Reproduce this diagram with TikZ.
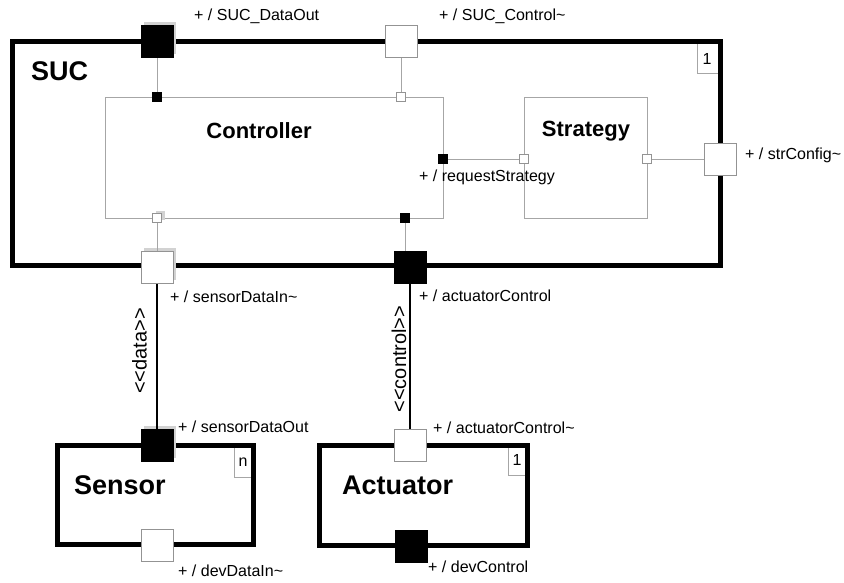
\documentclass[tikz,border=0pt]{standalone}
\usepackage{fontspec}
\setmainfont{Liberation Sans}
\usetikzlibrary{shadows}
\begin{document}
\begin{tikzpicture}[x=1pt,y=-1pt,
  thickbox/.style={draw=black, line width=5pt, inner sep=0pt},
  partbox/.style={draw=gray!70, line width=1pt, inner sep=0pt},
  multbox/.style={draw=gray!70, line width=0.8pt, fill=white, inner sep=0pt},
  multtext/.style={inner sep=0pt, font=\fontsize{16}{18}\selectfont},
  bigport/.style={draw=gray!85, line width=1pt, fill=white, minimum size=32pt, inner sep=0pt},
  bigportb/.style={bigport, fill=black, draw=black},
  smallport/.style={draw=gray!85, line width=0.8pt, fill=white, minimum size=9pt, inner sep=0pt},
  smallportb/.style={smallport, fill=black, draw=black},
  shad/.style={general shadow={shadow xshift=3pt, shadow yshift=3pt, fill=gray!35}},
  lbl/.style={font=\fontsize{16}{18}\selectfont, inner sep=0pt, anchor=west},
  title/.style={font=\bfseries\fontsize{27}{30}\selectfont, inner sep=0pt},
  ptitle/.style={font=\bfseries\fontsize{22}{25}\selectfont, inner sep=0pt},
  stereo/.style={font=\fontsize{20}{22}\selectfont, inner sep=0pt, rotate=90},
  thinline/.style={draw=gray!70, line width=1pt},
  conn/.style={draw=black, line width=2pt}
]
\useasboundingbox (0,0) rectangle (844,582);

% multiplicity boxes (under the thick borders)
\node[multbox, minimum width=23pt, minimum height=32pt] (m1) at (708.5,57) {};
\node[multbox, minimum width=19pt, minimum height=32pt] (mn) at (243.5,461) {};
\node[multbox, minimum width=19pt, minimum height=30pt] (ma) at (517.5,460) {};

% main boxes
\node[thickbox, minimum width=708pt, minimum height=224pt] (suc) at (366,153) {};
\node[thickbox, minimum width=196pt, minimum height=99pt] (sensor) at (155,494.5) {};
\node[thickbox, minimum width=208pt, minimum height=100pt] (actuator) at (423,495) {};
\node[partbox, minimum width=338pt, minimum height=121pt] (ctrl) at (274,157.5) {};
\node[partbox, minimum width=123pt, minimum height=121pt] (strat) at (585.5,157.5) {};

% multiplicity texts
\node[multtext] (m1t) at (707,59) {1};
\node[multtext] (mnt) at (243,462) {n};
\node[multtext] (mat) at (517,460) {1};

% titles
\node[title, anchor=west] (suct) at (31,71) {SUC};
\node[title, anchor=west] (sent) at (74,485) {Sensor};
\node[title, anchor=west] (actt) at (342,485) {Actuator};
\node[ptitle] (ctrlt) at (259,131) {Controller};
\node[ptitle] (stratt) at (586,131) {Strategy};

% ports
\node[bigportb, shad] (sdo) at (157,41) {};
\node[bigport] (sc) at (401,41) {};
\node[bigport] (str) at (720,159) {};
\node[bigport, shad] (sdi) at (157,267) {};
\node[bigportb] (ac) at (410,267) {};
\node[bigportb, shad] (sdoS) at (157,445) {};
\node[bigport] (ddi) at (157,545) {};
\node[bigport] (acT) at (410,445) {};
\node[bigportb] (dc) at (411,546) {};

\node[smallportb] (c1) at (157,97) {};
\node[smallport] (c2) at (401,97) {};
\node[smallportb] (c3) at (443,159) {};
\node[smallport, shad] (c4) at (157,218) {};
\node[smallportb] (c5) at (405,218) {};
\node[smallport] (s1) at (524,159) {};
\node[smallport] (s2) at (647,159) {};

% connectors
\draw[thinline] (c1) -- (sdo);
\draw[thinline] (c2) -- (sc);
\draw[thinline] (c3) -- (s1);
\draw[thinline] (s2) -- (str);
\draw[thinline] (c4) -- (sdi);
\draw[thinline] (c5.south) -- (c5.south |- ac.north);
\draw[conn] (sdi) -- (sdoS);
\draw[conn] (ac) -- (acT);

% redraw ports on top of connectors
\node[bigportb] at (sdo) {};
\node[bigport] at (sc) {};
\node[bigport] at (str) {};
\node[bigport] at (sdi) {};
\node[bigportb] at (ac) {};
\node[bigportb] at (sdoS) {};
\node[bigport] at (acT) {};

% labels
\node[lbl] (l1) at (194,16) {+ / SUC\_DataOut};
\node[lbl] (l2) at (439,16) {+ / SUC\_Control\textasciitilde};
\node[lbl] (l3) at (745,155) {+ / strConfig\textasciitilde};
\node[lbl] (l4) at (419,177) {+ / requestStrategy};
\node[lbl] (l5) at (170,297) {+ / sensorDataIn\textasciitilde};
\node[lbl] (l6) at (419,296) {+ / actuatorControl};
\node[lbl] (l7) at (178,427) {+ / sensorDataOut};
\node[lbl] (l8) at (433,428) {+ / actuatorControl\textasciitilde};
\node[lbl] (l9) at (178,571) {+ / devDataIn\textasciitilde};
\node[lbl] (l10) at (428,567) {+ / devControl};

\node[stereo] (st1) at (139.5,351) {<\kern0pt<data>\kern0pt>};
\node[stereo] (st2) at (399,359) {<\kern0pt<control>\kern0pt>};
\end{tikzpicture}
\end{document}
